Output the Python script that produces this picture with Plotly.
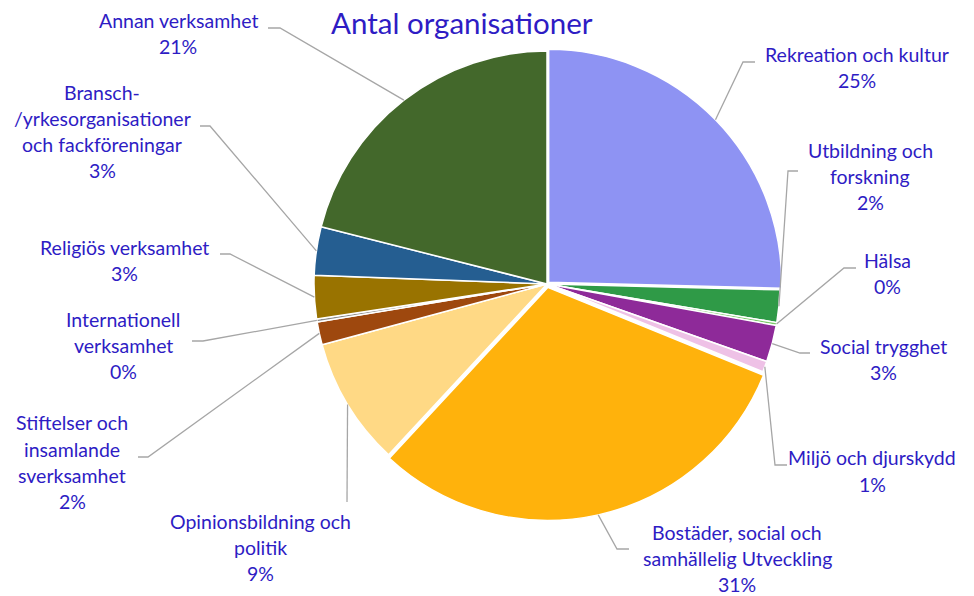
import math
import plotly.graph_objects as go

# ---------------- data ----------------
categories = [
    "Rekreation och kultur",
    "Utbildning och forskning",
    "Hälsa",
    "Social trygghet",
    "Miljö och djurskydd",
    "Bostäder, social och samhällelig Utveckling",
    "Opinionsbildning och politik",
    "Stiftelser och insamlande sverksamhet",
    "Internationell verksamhet",
    "Religiös verksamhet",
    "Bransch-/yrkesorganisationer och fackföreningar",
    "Annan verksamhet",
]
values = [25.4, 2.25, 0.2, 2.55, 0.75, 30.75, 8.9, 1.6, 0.2, 3.0, 3.35, 21.05]
colors = ["#8E93F3", "#2F9A47", "#7CC96B", "#8E2A99", "#EEC1E6", "#FFB20C",
          "#FFD985", "#9E480E", "#8C8C8C", "#997300", "#255E91", "#43682B"]
pulls = [0.01, 0, 0, 0, 0, 0.015, 0, 0, 0, 0, 0, 0]

# label display lines (wrapping as in the original)
label_lines = [
    ["Rekreation och kultur"],
    ["Utbildning och", "forskning"],
    ["Hälsa"],
    ["Social trygghet"],
    ["Miljö och djurskydd"],
    ["Bostäder, social och", "samhällelig Utveckling"],
    ["Opinionsbildning och", "politik"],
    ["Stiftelser och", "insamlande", "sverksamhet"],
    ["Internationell", "verksamhet"],
    ["Religiös verksamhet"],
    ["Bransch-", "/yrkesorganisationer", "och fackföreningar"],
    ["Annan verksamhet"],
]

# ---------------- layout (pixels) ----------------
W, H = 974, 596
CX, CY, R = 547, 284, 233
TEXT_COLOR = "#2E1CC4"
LINE_COLOR = "#A6A6A6"
FONT = "Lato, Carlito, 'Open Sans', sans-serif"
LABEL_SIZE = 19.5
LINE_STEP = 26

# label block: (x center, y of first line center)
label_pos = [(857, 54), (870, 150), (887, 261), (883, 346), (872, 458),
             (737, 532), (260, 521), (72, 423), (123, 319), (124, 247),
             (102, 92), (178, 21)]
# leader line elbow points (after the pie edge point)
leader_pts = [
    [(743, 62), (755, 62)],
    [(788, 171), (798, 171)],
    [(844, 268), (856, 268)],
    [(800, 353), (810, 353)],
    [(775, 465), (787, 465)],
    [(617, 549), (629, 549)],
    [(347, 502)],
    [(148, 457), (138, 457)],
    [(203, 341), (192, 341)],
    [(230, 254), (220, 254)],
    [(210, 126), (200, 126)],
    [(280, 28), (268, 28)],
]


def px(x):
    return x / W


def py(y):
    return 1 - y / H


maxpull = max(pulls)
Rbox = R * (1 + maxpull)

fig = go.Figure(go.Pie(
    labels=categories,
    values=values,
    sort=False,
    direction="clockwise",
    rotation=0,
    pull=pulls,
    marker=dict(colors=colors, line=dict(color="white", width=1.5)),
    textinfo="none",
    hoverinfo="label+percent",
    showlegend=False,
    domain=dict(x=[px(CX - Rbox), px(CX + Rbox)],
                y=[py(CY + Rbox), py(CY - Rbox)]),
))

total = sum(values)
annotations = []
shapes = []
cum = 0.0
for i, v in enumerate(values):
    a0 = cum / total * 360
    cum += v
    a1 = cum / total * 360
    mid = math.radians((a0 + a1) / 2)
    rr = R * (1 + pulls[i])
    ex = CX + rr * math.sin(mid)
    ey = CY - rr * math.cos(mid)
    pts = [(ex, ey)] + leader_pts[i]
    path = "M " + " L ".join(f"{px(x):.5f},{py(y):.5f}" for x, y in pts)
    shapes.append(dict(type="path", xref="paper", yref="paper", path=path,
                       line=dict(color=LINE_COLOR, width=1.3)))
    pct = f"{round(v / total * 100):d}%"
    lines = label_lines[i] + [pct]
    lx, ly = label_pos[i]
    for j, t in enumerate(lines):
        annotations.append(dict(
            x=px(lx), y=py(ly + j * LINE_STEP), xref="paper", yref="paper",
            text=t, showarrow=False, xanchor="center", yanchor="middle",
            borderpad=0,
            font=dict(family=FONT, size=LABEL_SIZE, color=TEXT_COLOR)))

annotations.append(dict(
    x=px(462), y=py(22), xref="paper", yref="paper", text="Antal organisationer",
    showarrow=False, xanchor="center", yanchor="middle", borderpad=0,
    font=dict(family=FONT, size=29.5, color=TEXT_COLOR)))

fig.update_layout(
    width=W, height=H,
    margin=dict(l=0, r=0, t=0, b=0),
    paper_bgcolor="white", plot_bgcolor="white",
    annotations=annotations, shapes=shapes,
)

fig.write_html("out.html",
               config={"displayModeBar": False},
               post_script="document.body.style.margin='0px';"
                           "document.body.style.overflow='hidden';")
